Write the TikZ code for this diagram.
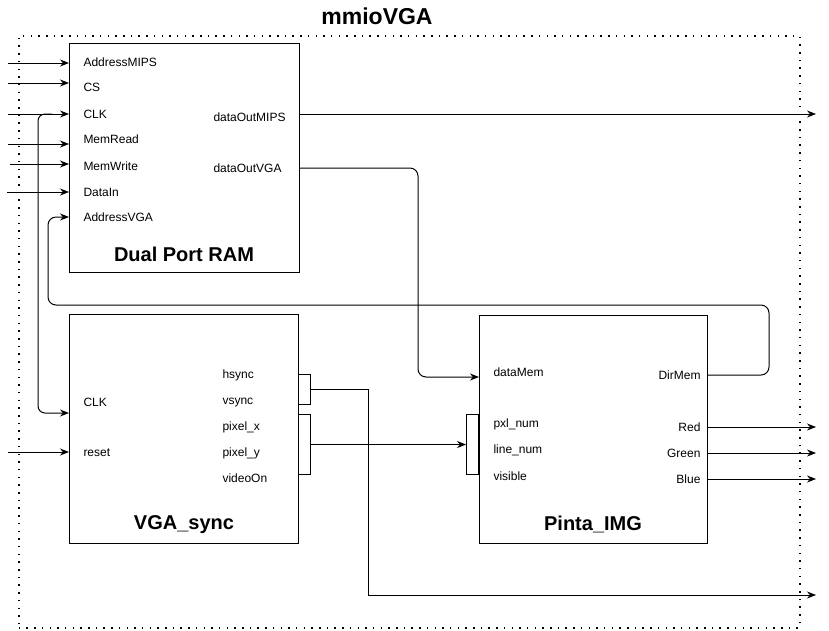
\documentclass[tikz,border=0pt]{standalone}
\usepackage{fontspec}
\setmainfont{Liberation Sans}
\usetikzlibrary{arrows.meta}

\begin{document}
\begin{tikzpicture}[x=1pt,y=-1pt,line width=1pt,
  blk/.style={draw,inner sep=0pt,anchor=north west},
  lbl/.style={inner sep=0pt,text height=8.6pt,text depth=0pt,font=\fontsize{12}{14}\selectfont},
  ttl/.style={inner sep=0pt,anchor=base,font=\fontsize{20}{24}\selectfont\bfseries},
  bus/.style={draw,inner sep=0pt,minimum width=12pt},
  sig/.style={-{Stealth[length=9pt,width=7pt]}},
  frame/.style={draw,line width=1.5pt,dash pattern=on 1.5pt off 6.2pt,inner sep=0pt,anchor=north west}]
\useasboundingbox (0,0) rectangle (829,630);

\node[frame,minimum width=781pt,minimum height=592pt] (mmio) at (18,35) {};
\node[inner sep=0pt,font=\fontsize{23}{27}\selectfont\bfseries] (mmioT) at (377,16) {mmioVGA};

% blocks
\node[blk,minimum width=230pt,minimum height=229pt] (ram) at (69,43) {};
\node[blk,minimum width=229pt,minimum height=229pt] (sync) at (69,314) {};
\node[blk,minimum width=228pt,minimum height=228pt] (pinta) at (479,315) {};

\node[ttl] (ramT) at (184,261) {Dual Port RAM};
\node[ttl] (syncT) at (184,529) {VGA\_sync};
\node[ttl] (pintaT) at (593,530) {Pinta\_IMG};

% ports of the RAM
\node[lbl,anchor=west] (am) at (83,62) {AddressMIPS};
\node[lbl,anchor=west] (cs) at (83,87.5) {CS};
\node[lbl,anchor=west] (ck) at (83,114) {CLK};
\node[lbl,anchor=west] (mr) at (83,139) {MemRead};
\node[lbl,anchor=west] (mw) at (83,166) {MemWrite};
\node[lbl,anchor=west] (di) at (83,192) {DataIn};
\node[lbl,anchor=west] (av) at (83,217) {AddressVGA};
\node[lbl,anchor=west] (dom) at (213,117) {dataOutMIPS};
\node[lbl,anchor=west] (dov) at (213,168) {dataOutVGA};

% ports of VGA_sync
\node[lbl,anchor=west] (sck) at (83,402) {CLK};
\node[lbl,anchor=west] (rst) at (83,452) {reset};
\node[lbl,anchor=west] (hs) at (222,374) {hsync};
\node[lbl,anchor=west] (vs) at (222,400) {vsync};
\node[lbl,anchor=west] (px) at (222,426) {pixel\_x};
\node[lbl,anchor=west] (py) at (222,452) {pixel\_y};
\node[lbl,anchor=west] (von) at (222,478) {videoOn};

% ports of Pinta_IMG
\node[lbl,anchor=west] (dmem) at (493,372) {dataMem};
\node[lbl,anchor=west] (pn) at (493,423) {pxl\_num};
\node[lbl,anchor=west] (ln) at (493,449) {line\_num};
\node[lbl,anchor=west] (vis) at (493,476) {visible};
\node[lbl,anchor=east] (dm) at (701,375) {DirMem};
\node[lbl,anchor=east] (red) at (701,427) {Red};
\node[lbl,anchor=east] (grn) at (701,453) {Green};
\node[lbl,anchor=east] (blu) at (701,479) {Blue};

% buses
\node[bus,minimum height=30pt,anchor=north west] (busHV) at (298,374) {};
\node[bus,minimum height=60pt,anchor=north west] (busXY) at (298,414) {};
\node[bus,minimum height=60pt,anchor=north east] (busIn) at (479,414) {};

% inputs
\coordinate (inAM) at (8,63);
\coordinate (inCS) at (8,83);
\coordinate (inCK) at (8,114);
\coordinate (inMR) at (8,144);
\coordinate (inMW) at (10,164);
\coordinate (inDI) at (7,192);
\coordinate (inRst) at (8,452);
\draw[sig] (inAM) -- (inAM -| ram.west);
\draw[sig] (inCS) -- (inCS -| ram.west);
\draw[sig] (inCK) -- (inCK -| ram.west);
\draw[sig] (inMR) -- (inMR -| ram.west);
\draw[sig] (inMW) -- (inMW -| ram.west);
\draw[sig] (inDI) -- (inDI -| ram.west);
\draw[sig] (inRst) -- (inRst -| sync.west);

% clock to VGA_sync
\coordinate (ckTap) at (52,114);
\coordinate (ckBus) at (38,413);
\draw[sig,rounded corners=7pt] (ckTap) -| (ckBus) -- (ckBus -| sync.west);

% DirMem back to AddressVGA
\coordinate (fbR) at (769,305);
\coordinate (fbL) at (48,305);
\draw[sig,rounded corners=8pt] (dm -| pinta.east) -| (fbR) -- (fbL) |- (av -| ram.west);

% data to Pinta_IMG
\coordinate (dmTurn) at (418,377);
\draw[sig,rounded corners=8pt] (dov -| ram.east) -| (dmTurn) -- (dmTurn -| pinta.west);
\draw[sig] (busXY.east) -- (busIn.west);

% outputs
\coordinate (outMIPS) at (816,114);
\coordinate (syncOut) at (368,595);
\coordinate (outSync) at (816,595);
\draw[sig] (outMIPS -| ram.east) -- (outMIPS);
\draw[sig] (busHV.east) -| (syncOut) -- (outSync);
\draw[sig] (red -| pinta.east) -- (red -| outSync);
\draw[sig] (grn -| pinta.east) -- (grn -| outSync);
\draw[sig] (blu -| pinta.east) -- (blu -| outSync);
\end{tikzpicture}
\end{document}
